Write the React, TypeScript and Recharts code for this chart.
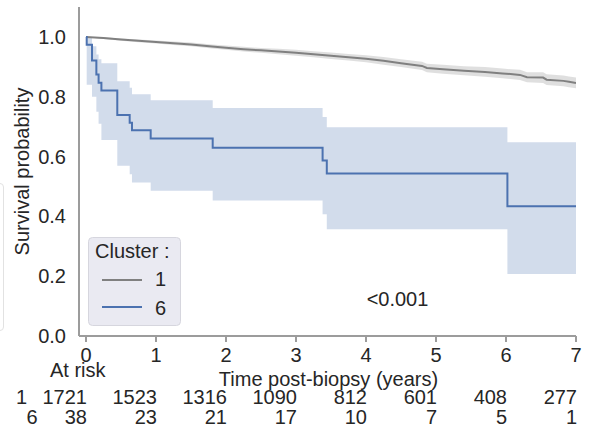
import React from "react";
import { ComposedChart, Area, Line, XAxis, YAxis } from "recharts";

// ---- Data ----
const timeTicks = [0, 1, 2, 3, 4, 5, 6, 7];
const riskCluster1 = [1721, 1523, 1316, 1090, 812, 601, 408, 277];
const riskCluster6 = [38, 23, 21, 17, 10, 7, 5, 1];
const yTicks = [0, 0.2, 0.4, 0.6, 0.8, 1.0];

// Cluster 1 (gray) Kaplan-Meier estimate with CI
const c1Time = [0, 0.25, 0.5, 0.75, 1.0, 1.25, 1.5, 1.8, 2.0, 2.25, 2.5, 2.75, 3.0, 3.25, 3.5, 3.75, 4.0, 4.25, 4.5, 4.8, 4.87, 5.1, 5.4, 5.7, 5.95, 6.2, 6.3, 6.53, 6.58, 6.82, 6.9, 7.0];
const c1Surv = [1.0, 0.996, 0.991, 0.987, 0.983, 0.979, 0.975, 0.968, 0.964, 0.959, 0.955, 0.951, 0.947, 0.942, 0.937, 0.932, 0.927, 0.92, 0.912, 0.903, 0.896, 0.892, 0.887, 0.883, 0.878, 0.873, 0.865, 0.864, 0.857, 0.853, 0.85, 0.846];
const c1Lo = [1.0, 0.993, 0.987, 0.982, 0.978, 0.973, 0.969, 0.961, 0.957, 0.951, 0.947, 0.942, 0.937, 0.932, 0.926, 0.921, 0.915, 0.907, 0.899, 0.889, 0.882, 0.877, 0.872, 0.867, 0.862, 0.856, 0.848, 0.846, 0.839, 0.835, 0.832, 0.828];
const c1Hi = [1.0, 0.999, 0.995, 0.991, 0.988, 0.985, 0.981, 0.975, 0.971, 0.967, 0.963, 0.96, 0.957, 0.952, 0.948, 0.943, 0.939, 0.933, 0.925, 0.917, 0.91, 0.907, 0.902, 0.899, 0.894, 0.89, 0.882, 0.882, 0.875, 0.871, 0.868, 0.864];

// Cluster 6 (blue) Kaplan-Meier estimate with CI
const c6Time = [0, 0.01, 0.086, 0.148, 0.18, 0.22, 0.447, 0.624, 0.657, 0.924, 1.81, 3.38, 3.44, 6.02, 7.0];
const c6Surv = [1.0, 0.974, 0.921, 0.874, 0.847, 0.821, 0.739, 0.713, 0.688, 0.66, 0.629, 0.587, 0.543, 0.434, 0.434];
const c6Lo = [1.0, 0.84, 0.8, 0.75, 0.71, 0.655, 0.569, 0.541, 0.513, 0.486, 0.453, 0.407, 0.357, 0.207, 0.207];
const c6Hi = [1.0, 1.0, 0.969, 0.941, 0.925, 0.912, 0.852, 0.83, 0.808, 0.788, 0.762, 0.732, 0.698, 0.648, 0.648];

const c1Data = c1Time.map((t, i) => ({ t, s: c1Surv[i], ci: [c1Lo[i], c1Hi[i]] }));
const c6Data = c6Time.map((t, i) => ({ t, s: c6Surv[i], ci: [c6Lo[i], c6Hi[i]] }));

const FONT = "'Liberation Sans', Arial, sans-serif";
const TXT = "#262626";
const SPINE = "#9c9c9c";
const GRAY = "#808080";
const BLUE = "#4c72b0";

const RiskTick = (props: any) => {
  const { x, y, payload } = props;
  const i = timeTicks.indexOf(payload.value);
  return (
    <g fontFamily={FONT} fontSize={20} fill={TXT}>
      <text x={x} y={y + 18} textAnchor="middle">{payload.value}</text>
      <text x={x + 1} y={y + 60} textAnchor="end">{riskCluster1[i]}</text>
      <text x={x + 1} y={y + 80} textAnchor="end">{riskCluster6[i]}</text>
    </g>
  );
};

export default function App() {
  return (
    <div style={{ position: "absolute", left: 0, top: 0, width: 593, height: 436, background: "#fff", overflow: "hidden" }}>
      <div style={{ position: "absolute", left: -12, top: 183, width: 14, height: 146, border: "1px solid #e2e2e2", borderRadius: 4 }} />
      <ComposedChart width={593} height={436} margin={{ top: 7, right: 17, left: 0, bottom: 0 }}>
        <XAxis
          type="number"
          dataKey="t"
          domain={[-0.1, 7]}
          ticks={timeTicks}
          allowDataOverflow
          axisLine={{ stroke: SPINE, strokeWidth: 2 }}
          tickLine={{ stroke: SPINE, strokeWidth: 2 }}
          tickSize={6}
          tickMargin={2}
          height={100}
          tick={<RiskTick />}
          interval={0}
        />
        <YAxis
          type="number"
          domain={[0, 1.1]}
          ticks={yTicks}
          allowDataOverflow
          width={79}
          axisLine={{ stroke: SPINE, strokeWidth: 2 }}
          tickLine={false}
          tickSize={6}
          tickMargin={7}
          tickFormatter={(v: number) => v.toFixed(1)}
          tick={{ fill: TXT, fontSize: 20, fontFamily: FONT }}
        />
        <Area data={c1Data} dataKey="ci" type="linear" stroke="none" fill={GRAY} fillOpacity={0.25} isAnimationActive={false} />
        <Area data={c6Data} dataKey="ci" type="stepAfter" stroke="none" fill={BLUE} fillOpacity={0.25} isAnimationActive={false} />
        <Line data={c1Data} dataKey="s" type="linear" stroke={GRAY} strokeWidth={2} dot={false} isAnimationActive={false} />
        <Line data={c6Data} dataKey="s" type="stepAfter" stroke={BLUE} strokeWidth={2} dot={false} isAnimationActive={false} />
      </ComposedChart>
      <svg width={593} height={436} style={{ position: "absolute", left: 0, top: 0, pointerEvents: "none" }} fontFamily={FONT} fill={TXT}>
        <text transform="translate(29,171.5) rotate(-90)" textAnchor="middle" fontSize={20}>Survival probability</text>
        <text x={328.5} y={386} textAnchor="middle" fontSize={20}>Time post-biopsy (years)</text>
        <text x={50} y={377} fontSize={20}>At risk</text>
        <text x={16} y={404} fontSize={20}>1</text>
        <text x={26.5} y={424} fontSize={20}>6</text>
        <text x={397.5} y={306} textAnchor="middle" fontSize={20}>&lt;0.001</text>
        <g>
          <rect x={88.5} y={237.5} width={92} height={88} rx={4} fill="#eaeaf2" stroke="#d6d6de" strokeWidth={1} />
          <text x={95} y={258} fontSize={20}>Cluster :</text>
          <line x1={102} y1={280} x2={142} y2={280} stroke={GRAY} strokeWidth={1.8} />
          <text x={155} y={286} fontSize={20}>1</text>
          <line x1={102} y1={307} x2={142} y2={307} stroke={BLUE} strokeWidth={1.8} />
          <text x={155} y={315} fontSize={20}>6</text>
        </g>
      </svg>
    </div>
  );
}
